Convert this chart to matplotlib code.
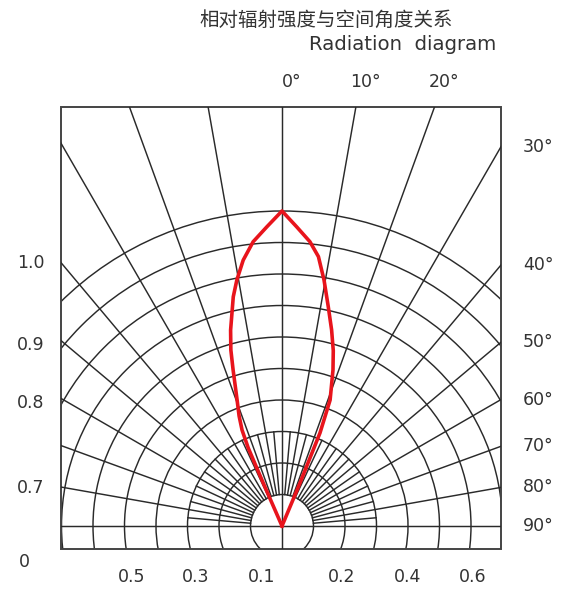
import numpy as np
import matplotlib.pyplot as plt
from matplotlib.patches import Circle, Rectangle

plt.rcParams['font.family'] = ['DejaVu Sans', 'Noto Sans CJK SC']

# radiation pattern: angle from axis (deg), relative intensity
left_angle = [0, 2.9, 5.8, 8.3, 10.4, 12.0, 14.7, 16.2, 17.4, 19.6, 21.3, 22.6, 23.4, 23.6, 23.8]
left_intensity = [1.0, 0.951, 0.907, 0.853, 0.794, 0.744, 0.643, 0.582, 0.519, 0.425, 0.375, 0.33, 0.27, 0.15, 0.0]
right_angle = [0, 2.8, 5.6, 7.7, 9.7, 11.9, 14.2, 16.3, 18.1, 20.9, 22.2, 22.7, 23.0]
right_intensity = [1.0, 0.951, 0.907, 0.863, 0.792, 0.712, 0.642, 0.58, 0.521, 0.428, 0.319, 0.148, 0.0]

# labels
title_cn = "相对辐射强度与空间角度关系"
title_en = "Radiation  diagram"
top_angles = [0, 10, 20]
right_angles = [30, 40, 50, 60, 70, 80, 90]
left_labels = ["1.0", "0.9", "0.8", "0.7", "0"]
left_label_py = [263, 345, 403, 488, 562]
bottom_labels = ["0.5", "0.3", "0.1", "0.2", "0.4", "0.6"]
bottom_label_px = [132, 196, 262, 342, 408, 473]

W, H = 564, 590
CX, CY, R = 282, 526, 315  # polar centre and unit radius in pixels


def px2d(px, py):
    return (px - CX) / R, (CY - py) / R


fig = plt.figure(figsize=(W / 100, H / 100), dpi=100)
ax = fig.add_axes([61 / W, (H - 549) / H, 440 / W, 442 / H])
x0, y1 = px2d(61, 107)
x1, y0 = px2d(501, 549)
ax.set_xlim(x0, x1)
ax.set_ylim(y0, y1)
ax.axis('off')

gc = '#2a2a2a'
lw = 1.05

# concentric circles
for k in range(1, 11):
    ax.add_patch(Circle((0, 0), k * 0.1, fill=False, ec=gc, lw=lw))

# main radial lines every 10 deg
for a in range(-80, 90, 10):
    if a == 0:
        continue
    t = np.radians(a)
    ax.plot([0.1 * np.sin(t), 3 * np.sin(t)], [0.1 * np.cos(t), 3 * np.cos(t)], color=gc, lw=lw)

# short radial lines at 5 deg steps near the centre
for a in range(-85, 90, 10):
    t = np.radians(a)
    ax.plot([0.1 * np.sin(t), 0.3 * np.sin(t)], [0.1 * np.cos(t), 0.3 * np.cos(t)], color=gc, lw=lw)

ax.axvline(0, color=gc, lw=lw)
ax.axhline(0, color=gc, lw=lw)
ax.add_patch(Rectangle((x0, y0), x1 - x0, y1 - y0, fill=False, ec='#444444', lw=1.4, clip_on=False))

# red curve
la = np.radians(left_angle)
li = np.array(left_intensity)
ra = np.radians(right_angle)
ri = np.array(right_intensity)
xs = np.concatenate([-(li * np.sin(la))[::-1], ri * np.sin(ra)])
ys = np.concatenate([(li * np.cos(la))[::-1], ri * np.cos(ra)])
ax.plot(xs, ys, color='#e8141c', lw=2.6, solid_joinstyle='round', zorder=5)

tc = '#333333'
fs = 12.5

fig.text(326 / W, 1 - 20 / H, title_cn, ha='center', va='center', fontsize=14,
         color=tc, family=['Noto Sans CJK SC', 'DejaVu Sans'])
fig.text(403 / W, 1 - 45 / H, title_en, ha='center', va='center', fontsize=14.2, color=tc)

# top angle labels
for a in top_angles:
    x = y1 * np.tan(np.radians(a)) + 0.03
    ax.text(x, px2d(0, 82)[1], f"{a}°", ha='center', va='center', fontsize=fs, color=tc, clip_on=False)

# right angle labels
for a in right_angles:
    y = x1 / np.tan(np.radians(a)) if a < 90 else 0
    ax.text(px2d(523, 0)[0], y, f"{a}°", ha='left', va='center', fontsize=fs, color=tc, clip_on=False)

# left labels
for lab, py in zip(left_labels, left_label_py):
    ax.text(*px2d(17 if len(lab) > 1 else 19, py), lab, ha='left', va='center',
            fontsize=fs, color=tc, clip_on=False)

# bottom labels
for lab, px in zip(bottom_labels, bottom_label_px):
    ax.text(*px2d(px, 577), lab, ha='center', va='center', fontsize=fs, color=tc, clip_on=False)

fig.savefig('out.png', dpi=100, facecolor='white')
